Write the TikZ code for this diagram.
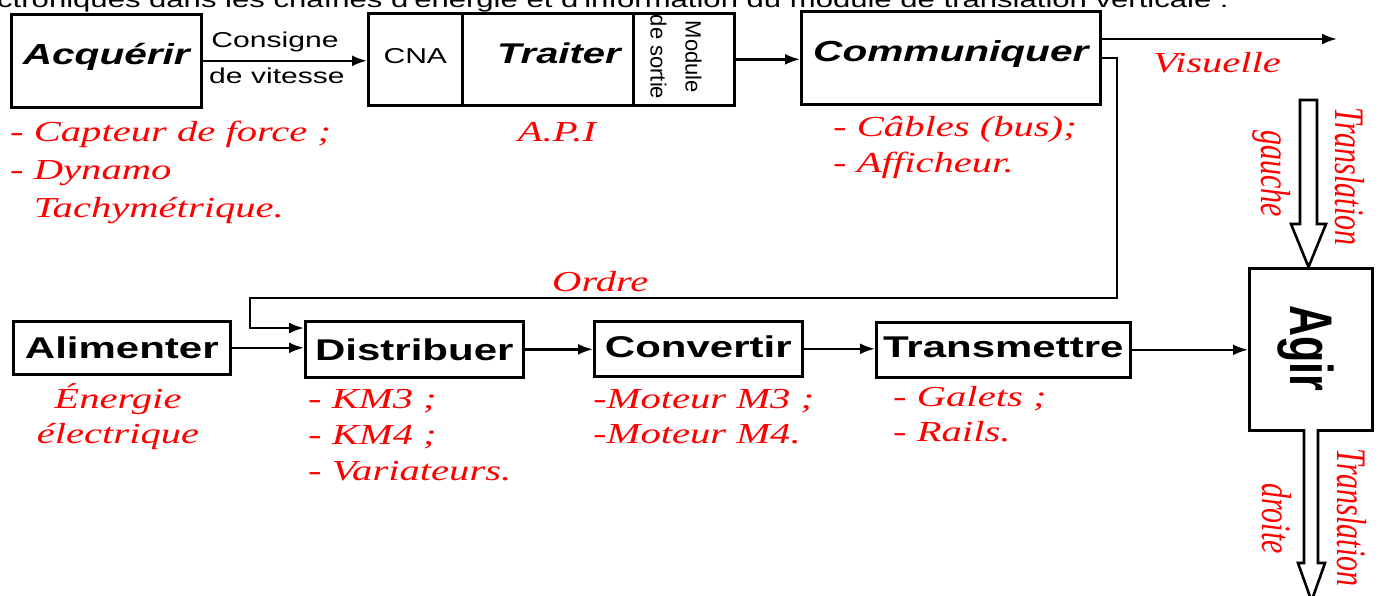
\documentclass[tikz,border=0pt]{standalone}
\usepackage{fontspec}
\usepackage{graphicx}
\usetikzlibrary{arrows.meta}
\setmainfont{Liberation Sans}[FakeStretch=1.4]
\newfontfamily\sfw{Liberation Sans}[FakeStretch=1.4]
\newfontfamily\sfn{Liberation Sans}
\newfontfamily\rmw{Liberation Serif}[FakeStretch=1.4]
\newfontfamily\rmn{Liberation Serif}
\newcommand\fs[2]{\fontsize{#1}{#2}\selectfont}
\begin{document}
\begin{tikzpicture}[x=1pt,y=-1pt,
  box/.style={draw,line width=2.6pt,inner sep=0pt,anchor=north west},
  bt/.style={font=\sfw\bfseries\itshape\fs{29}{34}},
  bb/.style={font=\sfw\bfseries\fs{30}{34}},
  rt/.style={text=red,font=\rmw\itshape\fs{29}{36},align=left,inner sep=0pt},
  rrot/.style={text=red,font=\rmn\itshape\fs{30}{36},inner sep=0pt,rotate=-90},
  plain/.style={font=\sfw\fs{21.5}{25},inner sep=0pt},
  arr/.style={-{Latex[length=15pt,width=11pt]},line width=2.4pt},
  hollow/.style={draw,line width=2.6pt,fill=white,line join=miter}
]
\useasboundingbox (0,0) rectangle (1378,595);
\clip (0,0) rectangle (1378,595);

\node[font=\sfw\fs{22.2}{25},inner sep=0pt,anchor=base west] (cap) at (-3,7) {ctroniques dans les chaînes d'énergie et d'information du module de translation verticale :};

% top row
\node[box,bt,minimum width=190pt,text height=50pt,text depth=43pt] (acq) at (10,13) {Acquérir};
\node[box,plain,minimum width=94pt,text height=50pt,text depth=42pt] (cna) at (367,12) {CNA};
\node[box,font=\sfw\bfseries\itshape\fs{28.5}{34},minimum width=171pt,text height=50pt,text depth=42pt] (trait) at (461,12) {\hspace*{22pt}Traiter};
\node[box,minimum width=101pt,minimum height=92pt] (mod) at (632,12) {};
\node[font=\sfn\fs{22}{35},align=center,rotate=-90,inner sep=0pt] (modt) at (676,57) {Module\\de sortie};
\node[box,bt,minimum width=299pt,text height=50pt,text depth=43pt] (com) at (800,10) {Communiquer};

\draw[arr] (acq.east) -- (acq.east -| cna.west);
\node[plain,anchor=base] (cons) at (275,47) {Consigne};
\node[plain,anchor=base] (vit) at (277,83) {de vitesse};
\draw[arr] (mod.east) -- (mod.east -| com.west);
\coordinate (visend) at (1337,39);
\draw[arr] (com.east |- visend) -- (visend);

% bottom row
\node[box,bb,minimum width=217pt,text height=37pt,text depth=16pt] (ali) at (12,320) {Alimenter};
\node[box,bb,minimum width=218pt,text height=39pt,text depth=17pt] (dist) at (304,320) {Distribuer};
\node[box,bb,minimum width=208pt,text height=36pt,text depth=19pt] (conv) at (593,320) {Convertir};
\node[box,bb,minimum width=254pt,text height=35pt,text depth=20pt] (trans) at (875,321) {Transmettre};
\node[box,minimum width=123pt,minimum height=162pt] (agir) at (1248,267) {};
\node[font=\sfn\bfseries\fs{43}{50},rotate=-90,anchor=base,inner sep=0pt] (agirt) at (1290,348) {\scalebox{1}[1.4]{Agir}};

\coordinate (c1) at (1117,298);
\coordinate (c2) at (250,298);
\draw[arr] (com.east) -| (c1) -- (c2) |- ([yshift=-8pt]dist.north west);

\draw[arr] (ali.east) -- (ali.east -| dist.west);
\draw[arr] (dist.east) -- (dist.east -| conv.west);
\draw[arr] (conv.east) -- (conv.east -| trans.west);
\draw[arr] (trans.east) -- (trans.east -| agir.west);

% hollow arrows
\draw[hollow] (1300,100) -- (1300,224) -- (1291,224) -- (1308.5,267) -- (1326,224) -- (1317,224) -- (1317,100) -- cycle;
\draw[hollow] (1304,429) -- (1304,563) -- (1298,563) -- (1311.5,601) -- (1325,563) -- (1318,563) -- (1318,429);

% red labels (base anchor = last line)
\node[rt,font=\rmw\itshape\fs{29}{38},anchor=base west] (capt) at (10,217) {- Capteur de force ;\\- Dynamo\\\phantom{- }Tachymétrique.};
\node[rt,anchor=base] (api) at (557,141) {A.P.I};
\node[rt,anchor=base west] (cab) at (833,172) {- Câbles (bus);\\- Afficheur.};
\node[rt,anchor=base west] (vis) at (1153,72) {Visuelle};
\node[rt,anchor=base west] (ord) at (552,291) {Ordre};
\node[rt,align=center,font=\rmw\itshape\fs{29}{35},anchor=base] (ener) at (118,443) {Énergie\\électrique};
\node[rt,anchor=base west] (km) at (308,480) {- KM3 ;\\- KM4 ;\\- Variateurs.};
\node[rt,font=\rmw\itshape\fs{29}{35},anchor=base west] (mot) at (593,443) {-Moteur M3 ;\\-Moteur M4.};
\node[rt,font=\rmw\itshape\fs{29}{35},anchor=base west] (gal) at (893,441) {- Galets ;\\- Rails.};

\node[rrot,anchor=base west] (tg1) at (1335,107) {\scalebox{1}[1.4]{Translation}};
\node[rrot,anchor=base west] (tg2) at (1261,130) {\scalebox{1}[1.4]{gauche}};
\node[rrot,anchor=base west] (td1) at (1337,448) {\scalebox{1}[1.4]{Translation}};
\node[rrot,anchor=base west] (td2) at (1262,483) {\scalebox{1}[1.4]{droite}};
\end{tikzpicture}
\end{document}
